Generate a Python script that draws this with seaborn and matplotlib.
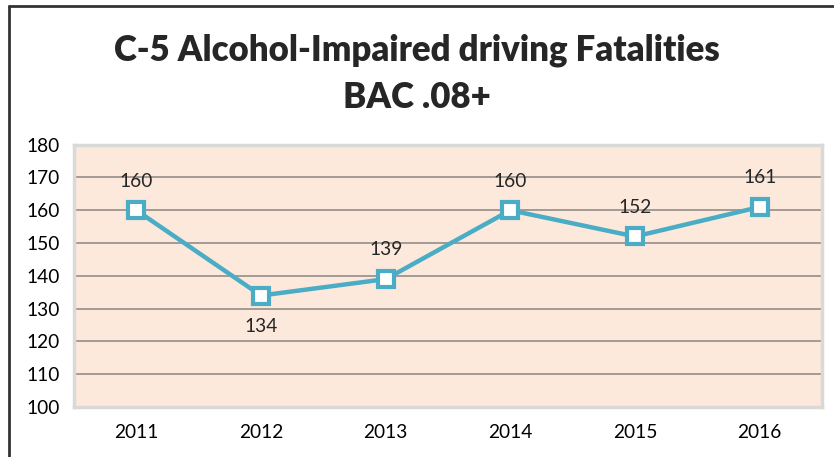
import numpy as np
import pandas as pd
import matplotlib
matplotlib.use("Agg")
import matplotlib.pyplot as plt
import seaborn as sns

# data
years = ['2011', '2012', '2013', '2014', '2015', '2016']
fatalities = [160, 134, 139, 160, 152, 161]
label_below = [False, True, False, False, False, False]

df = pd.DataFrame({'year': years, 'fatalities': fatalities})

sns.set_style('white')
plt.rcParams['font.family'] = ['Lato', 'DejaVu Sans']

line_color = '#4BACC6'

fig = plt.figure(figsize=(8.34, 4.57), dpi=100)
ax = fig.add_axes([0.0887, 0.1094, 0.897, 0.574])

sns.lineplot(data=df, x='year', y='fatalities', ax=ax, color=line_color,
             linewidth=3.2, marker='s', markersize=11, markerfacecolor='white',
             markeredgecolor=line_color, markeredgewidth=3, sort=False)

ax.set_facecolor('#FCE9DB')
ax.set_xlim(-0.5, len(years) - 0.5)
ax.set_ylim(100, 180)
ax.set_yticks(range(100, 181, 10))
ax.yaxis.grid(True, color='#9A9490', linewidth=1.3)
ax.set_axisbelow(True)
ax.set_xlabel('')
ax.set_ylabel('')
ax.tick_params(axis='both', labelsize=13.8, length=0, colors='black')
ax.tick_params(axis='x', pad=12)
ax.tick_params(axis='y', pad=10)
for s in ax.spines.values():
    s.set_color('#D9D9D9')
    s.set_linewidth(2.5)

# data labels
for i, v in enumerate(fatalities):
    off = -22 if label_below[i] else 21
    ax.annotate(str(v), (i, v), xytext=(0, off), textcoords='offset points',
                ha='center', va='center', fontsize=13.8)

# title
fig.text(0.5, 0.89, 'C-5 Alcohol-Impaired driving Fatalities', ha='center',
         va='center', fontsize=25, fontweight='heavy')
fig.text(0.5, 0.787, 'BAC .08+', ha='center', va='center', fontsize=25,
         fontweight='heavy')

# outer chart frame (top and left edges visible)
fig.add_artist(plt.Line2D([0.011, 1.0], [0.987, 0.987], color='#333333',
                          linewidth=2, transform=fig.transFigure))
fig.add_artist(plt.Line2D([0.011, 0.011], [0.0, 0.987], color='#333333',
                          linewidth=2, transform=fig.transFigure))

fig.savefig('out.png', dpi=100)
